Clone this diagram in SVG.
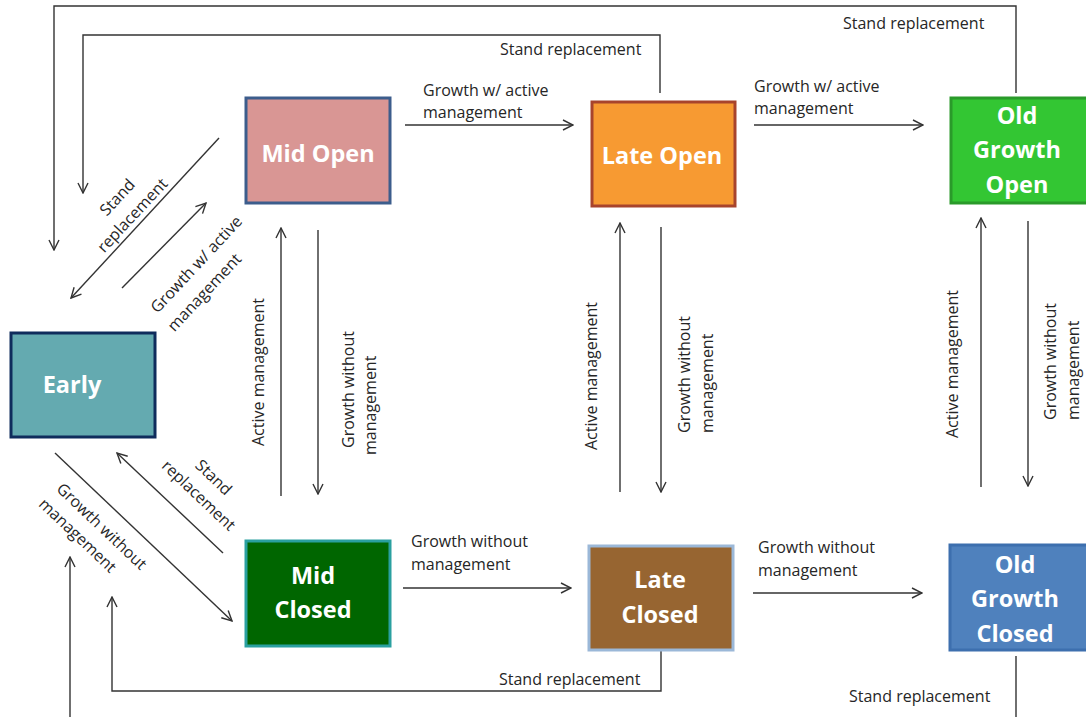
<svg xmlns="http://www.w3.org/2000/svg" width="1086" height="717" viewBox="0 0 1086 717">
<style>
.bg{fill:#ffffff}
.c{fill:none;stroke:#333333;stroke-width:1.4}
.lbl{font-family:"Open Sans","Liberation Sans",sans-serif;font-size:16px;fill:#262626}
.rc{dominant-baseline:central;text-anchor:middle}
.nt{font-family:"Open Sans","Liberation Sans",sans-serif;font-size:23.5px;font-weight:bold;fill:#ffffff;text-anchor:middle}
.box{stroke-width:3}
</style>
<defs>
<marker id="ah" markerUnits="userSpaceOnUse" viewBox="0 0 12 12" refX="11" refY="6" markerWidth="12" markerHeight="12" orient="auto">
<path d="M1,1 L11,6 L1,11" fill="none" stroke="#333333" stroke-width="1.4"/>
</marker>
</defs>
<rect class="bg" x="0" y="0" width="1086" height="717"/>

<g id="connectors">
<polyline class="c" points="1016,93 1016,6 54,6 54,250" marker-end="url(#ah)"/>
<polyline class="c" points="660,93 660,35 83,35 83,193" marker-end="url(#ah)"/>
<line class="c" x1="405" y1="125" x2="573" y2="125" marker-end="url(#ah)"/>
<line class="c" x1="754" y1="125" x2="923" y2="125" marker-end="url(#ah)"/>
<line class="c" x1="403" y1="588" x2="571" y2="588" marker-end="url(#ah)"/>
<line class="c" x1="753" y1="593" x2="922" y2="593" marker-end="url(#ah)"/>
<line class="c" x1="281" y1="496" x2="281" y2="228" marker-end="url(#ah)"/>
<line class="c" x1="318" y1="230" x2="318" y2="494" marker-end="url(#ah)"/>
<line class="c" x1="620" y1="492" x2="620" y2="223" marker-end="url(#ah)"/>
<line class="c" x1="661" y1="227" x2="661" y2="492" marker-end="url(#ah)"/>
<line class="c" x1="981" y1="487" x2="981" y2="218" marker-end="url(#ah)"/>
<line class="c" x1="1028" y1="221" x2="1028" y2="486" marker-end="url(#ah)"/>
<line class="c" x1="219" y1="138" x2="71" y2="298" marker-end="url(#ah)"/>
<line class="c" x1="122" y1="288" x2="206" y2="203" marker-end="url(#ah)"/>
<line class="c" x1="55" y1="453" x2="232" y2="621" marker-end="url(#ah)"/>
<line class="c" x1="223" y1="553" x2="117" y2="453" marker-end="url(#ah)"/>
<polyline class="c" points="661,650 661,691 112,691 112,597" marker-end="url(#ah)"/>
<line class="c" x1="1016" y1="656" x2="1016" y2="717"/>
<line class="c" x1="70" y1="717" x2="70" y2="557" marker-end="url(#ah)"/>

<text class="lbl" x="500" y="55">Stand replacement</text>
<text class="lbl" x="843" y="29">Stand replacement</text>
<text class="lbl" x="423" y="96">Growth w/ active</text>
<text class="lbl" x="423" y="118">management</text>
<text class="lbl" x="754" y="92">Growth w/ active</text>
<text class="lbl" x="754" y="114">management</text>
<text class="lbl" x="411" y="547">Growth without</text>
<text class="lbl" x="411" y="570">management</text>
<text class="lbl" x="758" y="553">Growth without</text>
<text class="lbl" x="758" y="576">management</text>
<text class="lbl" x="499" y="685">Stand replacement</text>
<text class="lbl" x="849" y="702">Stand replacement</text>

<text class="lbl rc" transform="translate(258,372) rotate(-90)">Active management</text>
<text class="lbl" transform="translate(354,448) rotate(-90)">Growth without</text>
<text class="lbl" transform="translate(376,455) rotate(-90)">management</text>

<text class="lbl rc" transform="translate(591,376) rotate(-90)">Active management</text>
<text class="lbl" transform="translate(690,433) rotate(-90)">Growth without</text>
<text class="lbl" transform="translate(713,433) rotate(-90)">management</text>

<text class="lbl rc" transform="translate(952,364) rotate(-90)">Active management</text>
<text class="lbl" transform="translate(1056,420) rotate(-90)">Growth without</text>
<text class="lbl" transform="translate(1079,420) rotate(-90)">management</text>

<text class="lbl rc" transform="translate(117,197) rotate(-47)">Stand</text>
<text class="lbl rc" transform="translate(132,215) rotate(-47)">replacement</text>
<text class="lbl rc" transform="translate(196,264) rotate(-47)">Growth w/ active</text>
<text class="lbl rc" transform="translate(204,292) rotate(-47)">management</text>

<text class="lbl rc" transform="translate(214,477) rotate(43.5)">Stand</text>
<text class="lbl rc" transform="translate(199,495) rotate(43.5)">replacement</text>
<text class="lbl rc" transform="translate(102,526) rotate(43.5)">Growth without</text>
<text class="lbl rc" transform="translate(78,535) rotate(43.5)">management</text>
</g>

<g id="node-mid-open">
<rect class="box" x="246" y="98" width="144" height="105" fill="#d99694" stroke="#3c5d8c"/>
<text class="nt" x="318" y="162">Mid Open</text>
</g>
<g id="node-late-open">
<rect class="box" x="592" y="102" width="143" height="104" fill="#f79a32" stroke="#a8442c"/>
<text class="nt" x="662" y="164">Late Open</text>
</g>
<g id="node-old-growth-open">
<rect class="box" x="951" y="98" width="140" height="105" fill="#33c633" stroke="#2a9a2a"/>
<text class="nt" x="1017" y="124">Old</text>
<text class="nt" x="1017" y="158">Growth</text>
<text class="nt" x="1017" y="193">Open</text>
</g>
<g id="node-early">
<rect class="box" x="11" y="333" width="144" height="104" fill="#64aab0" stroke="#0f2c5c"/>
<text class="nt" x="72" y="393">Early</text>
</g>
<g id="node-mid-closed">
<rect class="box" x="246" y="541" width="144" height="105" fill="#006600" stroke="#2aa0a0"/>
<text class="nt" x="313" y="584">Mid</text>
<text class="nt" x="313" y="618">Closed</text>
</g>
<g id="node-late-closed">
<rect class="box" x="589" y="546" width="144" height="104" fill="#976531" stroke="#9bb8d8"/>
<text class="nt" x="660" y="588">Late</text>
<text class="nt" x="660" y="623">Closed</text>
</g>
<g id="node-old-growth-closed">
<rect class="box" x="950" y="545" width="140" height="105" fill="#4f81bd" stroke="#3d6fae"/>
<text class="nt" x="1015" y="573">Old</text>
<text class="nt" x="1015" y="607">Growth</text>
<text class="nt" x="1015" y="642">Closed</text>
</g>
</svg>
